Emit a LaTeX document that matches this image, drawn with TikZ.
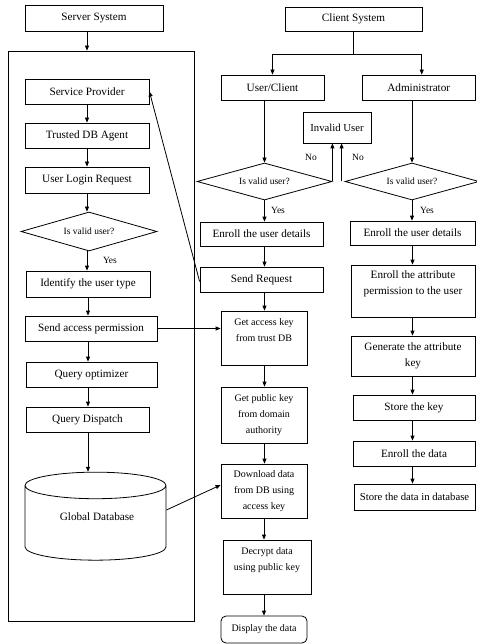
\documentclass[tikz,border=0pt]{standalone}
\usepackage{fontspec}
\setmainfont{Liberation Serif}
\usetikzlibrary{shapes.geometric,arrows.meta}
\tikzset{
  box/.style={draw, rectangle, inner sep=0pt, align=center, font={\fontsize{11.2}{16.5}\selectfont}},
  sbox/.style={box, font={\fontsize{10}{16}\selectfont}},
  dia/.style={draw, diamond, inner sep=0pt, aspect=3.5, font={\fontsize{9.5}{11}\selectfont}},
  lbl/.style={font={\fontsize{9.5}{11}\selectfont}, inner sep=0pt},
  arr/.style={-{Triangle[length=5pt,width=4pt]}},
  every path/.style={line width=0.8pt}
}
\begin{document}
\begin{tikzpicture}[x=1pt,y=-1pt]
\useasboundingbox (0,0) rectangle (476,644);
% server side
\node[box, minimum width=138pt, minimum height=26pt] (ss) at (94,18) {Server System};
\node[draw, rectangle, minimum width=186pt, minimum height=570pt, inner sep=0pt] (big) at (101,336) {};
\node[box, minimum width=124pt, minimum height=25pt] (sp) at (87,91.5) {Service Provider};
\node[box, minimum width=124pt, minimum height=25pt] (tdb) at (87,135.5) {Trusted DB Agent};
\node[box, minimum width=124pt, minimum height=26pt] (ulr) at (87,180) {User Login Request};
\node[dia, minimum width=136pt, minimum height=39pt] (d1) at (89,231.5) {Is valid user?};
\node[lbl] (y1) at (110,260) {Yes};
\node[box, minimum width=124pt, minimum height=26pt] (itu) at (88,284) {Identify the user type};
\node[box, minimum width=132pt, minimum height=25pt] (sap) at (91,328.5) {Send access permission};
\node[box, minimum width=131pt, minimum height=25pt] (qo) at (91.5,374.5) {Query optimizer};
\node[box, minimum width=123pt, minimum height=25pt] (qd) at (87.5,419.5) {Query Dispatch};
\node[draw, cylinder, shape border rotate=90, aspect=0.4, minimum width=141pt, minimum height=88pt, inner sep=0pt, font={\fontsize{10}{16}\selectfont}] (gdb) at (95.5,523) {\phantom{Global Database}};
\node[font={\fontsize{11.2}{14}\selectfont}, inner sep=0pt] (gdbl) at (97,517) {Global Database};
% client side
\node[box, minimum width=137pt, minimum height=24pt] (cs) at (353.5,19) {Client System};
\node[box, minimum width=103pt, minimum height=25pt] (uc) at (272.5,87.5) {User/Client};
\node[box, minimum width=113.5pt, minimum height=25pt] (adm) at (418.75,87.5) {Administrator};
\node[box, font={\fontsize{10.7}{14}\selectfont}, minimum width=68pt, minimum height=31pt] (iu) at (337,127.5) {Invalid User};
\node[dia, minimum width=135pt, minimum height=37pt] (d2) at (264.5,181.5) {Is valid user?};
\node[dia, minimum width=134pt, minimum height=37pt] (d3) at (412,181.5) {Is valid user?};
\node[lbl] (n1) at (311,157) {No};
\node[lbl] (n2) at (358,157) {No};
\node[lbl] (y2) at (278,210) {Yes};
\node[lbl] (y3) at (427,210) {Yes};
% user column
\node[box, minimum width=123pt, minimum height=24pt] (eu1) at (261.5,234) {Enroll the user details};
\node[box, minimum width=123pt, minimum height=25pt] (sr) at (261.5,279.5) {Send Request};
\node[sbox, minimum width=86pt, minimum height=54pt] (gak) at (264,338) {Get access key\\from trust DB\\~};
\node[sbox, minimum width=86pt, minimum height=56pt] (gpk) at (264,415) {Get public key\\from domain\\authority};
\node[sbox, minimum width=86pt, minimum height=54pt] (dl) at (264,491) {Download data\\from DB using\\access key};
\node[sbox, minimum width=88pt, minimum height=54pt] (dec) at (267,567) {Decrypt data\\using public key\\~};
\node[sbox, rounded corners=5pt, minimum width=86pt, minimum height=27pt] (disp) at (264,629.5) {Display the data};
% admin column
\node[box, minimum width=125pt, minimum height=24pt] (eu2) at (412.5,233) {Enroll the user details};
\node[box, minimum width=124pt, minimum height=52pt] (eap) at (413,291) {Enroll the attribute\\permission to the user\\~};
\node[box, minimum width=124pt, minimum height=40pt] (gen) at (413,356) {Generate the attribute\\key};
\node[box, minimum width=122pt, minimum height=25pt] (stk) at (414,407.5) {Store the key};
\node[box, minimum width=122pt, minimum height=25pt] (ed) at (414,453.5) {Enroll the data};
\node[box, font={\fontsize{10.7}{14}\selectfont}, minimum width=121pt, minimum height=26pt] (sdd) at (414.5,497) {Store the data in database};
% server arrows
\draw[arr] (sp.north |- ss.south) -- (sp.north |- big.north);
\draw[arr] (sp.south) -- (tdb.north);
\draw[arr] (tdb.south) -- (ulr.north);
\draw[arr] (ulr.south) -- (ulr.south |- d1.north);
\draw[arr] (ulr.south |- d1.south) -- (itu.north -| ulr.south);
\draw[arr] (itu.south) -- (itu.south |- sap.north);
\draw[arr] (itu.south |- sap.south) -- (itu.south |- qo.north);
\draw[arr] (itu.south |- qo.south) -- (itu.south |- qd.north);
\draw[arr] (itu.south |- qd.south) -- (itu.south |- gdb.north);
% client arrows
\draw (cs.south) -- ++(0,23) coordinate (j);
\draw[arr] (j) -| (uc.north);
\draw[arr] (j) -| ([xshift=3pt]adm.north);
\draw[arr] (d2.north |- uc.south) -- (d2.north);
\draw[arr] (d3.north |- adm.south) -- (d3.north);
\draw[arr] (d2.east) -- (d2.east |- iu.south);
\draw[arr] ([xshift=-3pt]d3.west) -- ([xshift=-3pt]d3.west |- iu.south);
\draw[arr] (d2.south) -- (d2.south |- eu1.north);
\draw[arr] (d2.south |- eu1.south) -- (d2.south |- sr.north);
\draw[arr] (d2.south |- sr.south) -- (d2.south |- gak.north);
\draw[arr] (d2.south |- gak.south) -- (d2.south |- gpk.north);
\draw[arr] (d2.south |- gpk.south) -- (d2.south |- dl.north);
\draw[arr] (dl.south) -- (dl.south |- dec.north);
\draw[arr] (dl.south |- dec.south) -- (dl.south |- disp.north);
\draw[arr] (d3.south) -- (d3.south |- eu2.north);
\draw[arr] (eu2.south) -- (eu2.south |- eap.north);
\draw[arr] (eu2.south |- eap.south) -- (eu2.south |- gen.north);
\draw[arr] (eu2.south |- gen.south) -- (eu2.south |- stk.north);
\draw[arr] (eu2.south |- stk.south) -- (eu2.south |- ed.north);
\draw[arr] (eu2.south |- ed.south) -- (eu2.south |- sdd.north);
% cross arrows
\draw[arr] (sap.east) -- (sap.east -| gak.west);
\draw[arr] ([yshift=-2pt]sr.west) -- (sp.east);
\draw[arr] ([yshift=13pt]gdb.east) -- ([yshift=6pt]dl.west);
\end{tikzpicture}
\end{document}
